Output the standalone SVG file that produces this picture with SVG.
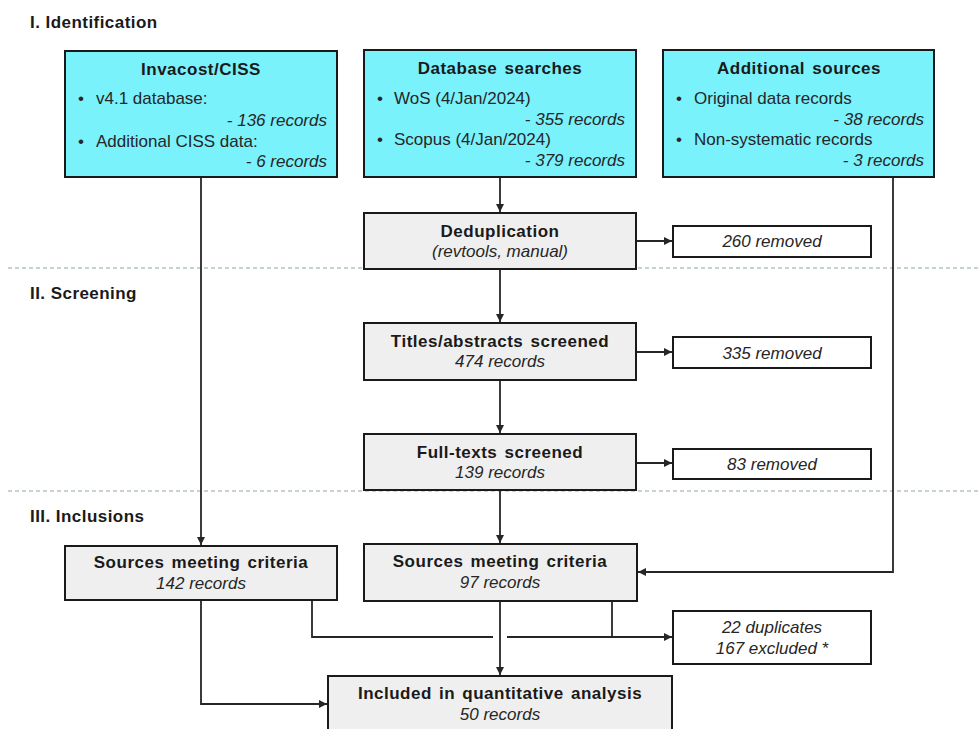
<svg xmlns="http://www.w3.org/2000/svg" width="979" height="729" viewBox="0 0 979 729">
<style>
text{font-family:"Liberation Sans",Arial,sans-serif;fill:#1a1a1a}
.sec{font-size:17px;font-weight:bold;letter-spacing:0.45px}
.t{font-size:17px;font-weight:bold;text-anchor:middle;letter-spacing:0.5px;word-spacing:2px}
.b{font-size:17px;fill:#262626}
.im{font-size:17px;font-style:italic;fill:#262626;text-anchor:middle}
.ie{font-size:17px;font-style:italic;fill:#262626;text-anchor:end}
.cy{fill:#7af2fc;stroke:#1a1a1a;stroke-width:2}
.gr{fill:#efefef;stroke:#1a1a1a;stroke-width:2}
.wh{fill:#fff;stroke:#1a1a1a;stroke-width:2}
.dash{stroke:#8fa5aa;stroke-width:1.2;stroke-dasharray:4 3;fill:none}
.c{stroke:#262626;stroke-width:1.8;fill:none}
</style>
<defs>
<marker id="ah" viewBox="0 0 10 10" refX="10" refY="5" markerWidth="8" markerHeight="8" markerUnits="userSpaceOnUse" orient="auto">
<path d="M0,0 L10,5 L0,10 z" fill="#262626"/>
</marker>
</defs>

<line class="dash" x1="8" y1="268" x2="979" y2="268"/>
<line class="dash" x1="8" y1="491" x2="979" y2="491"/>

<text class="sec" x="30" y="28">I. Identification</text>
<text class="sec" x="30" y="299">II. Screening</text>
<text class="sec" x="30" y="522">III. Inclusions</text>

<g id="connectors">
<path class="c" d="M201,177 V545" marker-end="url(#ah)"/>
<path class="c" d="M500,177 V212" marker-end="url(#ah)"/>
<path class="c" d="M636,241 H672" marker-end="url(#ah)"/>
<path class="c" d="M500,269 V322" marker-end="url(#ah)"/>
<path class="c" d="M636,352 H672" marker-end="url(#ah)"/>
<path class="c" d="M500,380 V433" marker-end="url(#ah)"/>
<path class="c" d="M636,463 H672" marker-end="url(#ah)"/>
<path class="c" d="M500,490 V543" marker-end="url(#ah)"/>
<path class="c" d="M893,177 V572 H638" marker-end="url(#ah)"/>
<path class="c" d="M201,600 V704 H327" marker-end="url(#ah)"/>
<path class="c" d="M312,600 V637 H493"/>
<path class="c" d="M507,637 H672" marker-end="url(#ah)"/>
<path class="c" d="M612,601 V637"/>
<path class="c" d="M500,601 V675" marker-end="url(#ah)"/>
</g>

<g id="invacost">
<rect class="cy" x="65" y="51" width="272" height="126"/>
<text class="t" x="201" y="75">Invacost/CISS</text>
<text class="b" x="78" y="104">•</text>
<text class="b" x="96" y="104">v4.1 database:</text>
<text class="ie" x="327" y="126">- 136 records</text>
<text class="b" x="78" y="147">•</text>
<text class="b" x="96" y="147">Additional CISS data:</text>
<text class="ie" x="327" y="167">- 6 records</text>
</g>

<g id="database">
<rect class="cy" x="364" y="50" width="272" height="127"/>
<text class="t" x="500" y="74">Database  searches</text>
<text class="b" x="377" y="104">•</text>
<text class="b" x="394" y="104">WoS (4/Jan/2024)</text>
<text class="ie" x="625" y="125">- 355 records</text>
<text class="b" x="377" y="145">•</text>
<text class="b" x="394" y="145">Scopus (4/Jan/2024)</text>
<text class="ie" x="625" y="166">- 379 records</text>
</g>

<g id="additional">
<rect class="cy" x="663" y="50" width="271" height="127"/>
<text class="t" x="799" y="74">Additional  sources</text>
<text class="b" x="676" y="104">•</text>
<text class="b" x="694" y="104">Original data records</text>
<text class="ie" x="924" y="125">- 38 records</text>
<text class="b" x="676" y="145">•</text>
<text class="b" x="694" y="145">Non-systematic  records</text>
<text class="ie" x="924" y="166">- 3 records</text>
</g>

<g id="dedup">
<rect class="gr" x="364" y="213" width="272" height="56"/>
<text class="t" x="500" y="237">Deduplication</text>
<text class="im" x="500" y="257">(revtools, manual)</text>
</g>

<g id="removed260">
<rect class="wh" x="673" y="226" width="198" height="31"/>
<text class="im" x="772" y="247">260 removed</text>
</g>

<g id="titles">
<rect class="gr" x="364" y="323" width="272" height="57"/>
<text class="t" x="500" y="347">Titles/abstracts  screened</text>
<text class="im" x="500" y="367">474 records</text>
</g>

<g id="removed335">
<rect class="wh" x="673" y="337" width="198" height="31"/>
<text class="im" x="772" y="359">335 removed</text>
</g>

<g id="fulltexts">
<rect class="gr" x="364" y="434" width="272" height="56"/>
<text class="t" x="500" y="458">Full-texts  screened</text>
<text class="im" x="500" y="478">139 records</text>
</g>

<g id="removed83">
<rect class="wh" x="673" y="449" width="198" height="30"/>
<text class="im" x="772" y="470">83 removed</text>
</g>

<g id="sources142">
<rect class="gr" x="65" y="546" width="272" height="54"/>
<text class="t" x="201" y="568">Sources  meeting  criteria</text>
<text class="im" x="201" y="589">142 records</text>
</g>

<g id="sources97">
<rect class="gr" x="364" y="544" width="273" height="57"/>
<text class="t" x="500" y="567">Sources  meeting  criteria</text>
<text class="im" x="500" y="588">97 records</text>
</g>

<g id="excluded">
<rect class="wh" x="673" y="611" width="198" height="53"/>
<text class="im" x="772" y="633">22 duplicates</text>
<text class="im" x="772" y="654">167 excluded *</text>
</g>

<g id="included">
<rect class="gr" x="328" y="676" width="344" height="62"/>
<text class="t" x="500" y="699">Included  in  quantitative  analysis</text>
<text class="im" x="500" y="720">50 records</text>
</g>
</svg>
